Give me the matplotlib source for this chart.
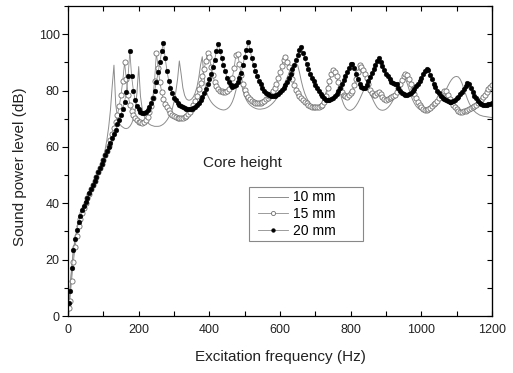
import numpy as np
import matplotlib.pyplot as plt
from matplotlib.patches import Rectangle
from matplotlib.ticker import MultipleLocator

plt.rcParams['font.family'] = ['Liberation Sans', 'DejaVu Sans']

# excitation frequency grid (Hz): first point, then every 5 Hz
freq = np.r_[2, np.arange(5, 1201, 5)]

# sound power level (dB), one row per 100 Hz
spl_10mm = [0.5,
    8, 16, 22.5, 27, 30.2, 33, 35.3, 37.3, 39, 40.6, 42.2, 43.8, 45.3, 46.8, 48.3, 49.8, 51.3, 52.8, 54.4, 56,
    59, 62.5, 67, 73, 81.5, 89, 75, 70.5, 68.5, 67.5, 67, 66.6, 66.5, 66.7, 67.3, 68.3, 70, 73, 79, 88.5,
    78, 73.5, 71, 69.6, 68.7, 68.1, 67.7, 67.5, 67.3, 67.3, 67.3, 67.4, 67.7, 68.1, 68.7, 69.5, 70.5, 71.8, 73.5, 76,
    79.5, 84, 90.5, 86, 81, 78.3, 77, 76.6, 76.6, 77, 77.8, 79.2, 81.3, 84.5, 89, 92, 84.5, 80.5, 78.3, 77,
    76, 75.2, 74.6, 74.1, 73.7, 73.4, 73.2, 73.1, 73.2, 73.5, 74, 74.8, 76, 77.7, 80, 83, 86, 83, 80, 78,
    76.6, 75.6, 74.9, 74.4, 74, 73.7, 73.5, 73.4, 73.4, 73.5, 73.6, 73.8, 74.1, 74.5, 75, 75.6, 76.3, 77.2, 78.2, 79.3,
    80.5, 81.8, 83.2, 84.6, 86, 87.3, 88.4, 89.2, 89.6, 89, 86.5, 83.5, 81, 79, 77.5, 76.3, 75.3, 74.6, 74.1, 73.9,
    73.9, 74.2, 74.9, 76, 77.5, 79.3, 81.3, 83.5, 85.5, 86.8, 87, 85.5, 82.5, 79.5, 77, 75.2, 74, 73.3, 73, 73,
    73.3, 73.8, 74.6, 75.6, 76.8, 78.2, 79.6, 80.6, 80.8, 80.2, 79, 77.6, 76.2, 75, 74, 73.4, 73.1, 73, 73.1, 73.4,
    73.9, 74.6, 75.5, 76.6, 77.9, 79.3, 80.8, 82.3, 83.6, 84.3, 84, 82.5, 80.5, 78.5, 76.8, 75.5, 74.5, 73.8, 73.3, 73.1,
    73.1, 73.3, 73.6, 74, 74.5, 74.9, 75.1, 75.2, 75.5, 76, 76.8, 77.8, 79, 80.3, 81.6, 82.8, 83.8, 84.5, 84.9, 85,
    84.8, 84, 82.6, 80.8, 78.9, 77.1, 75.6, 74.4, 73.4, 72.7, 72.1, 71.7, 71.3, 71.1, 70.9, 70.8, 70.7, 70.6, 70.5, 70.4]

spl_15mm = [3,
    5.5, 12.5, 19, 24.5, 28.5, 31.8, 34.3, 36.5, 38.3, 40, 41.7, 43.3, 45, 46.5, 48, 49.5, 51, 52.5, 54, 55.5,
    57, 58.7, 60.5, 62.5, 64.5, 66.7, 69, 71.5, 74.5, 78.5, 83.5, 90, 84, 78.5, 75, 72.8, 71.3, 70.2, 69.4, 69,
    68.7, 68.6, 68.8, 69.5, 70.7, 72.3, 74.5, 77.5, 83.5, 93.5, 88, 83, 79.5, 77, 75.3, 74, 73, 72, 71.3, 70.8,
    70.5, 70.3, 70.2, 70.2, 70.3, 70.6, 71, 71.6, 72.4, 73.4, 74.7, 76.3, 78.2, 80.5, 82.8, 85, 87.5, 90.5, 93.2, 92,
    88.5, 85.5, 83, 81.5, 80.5, 80, 79.7, 79.5, 79.5, 79.8, 80.6, 82, 84.5, 88, 92.5, 93, 89.5, 85.5, 82.3, 80.3,
    78.8, 77.8, 77, 76.4, 76, 75.7, 75.5, 75.5, 75.7, 76, 76.4, 76.9, 77.4, 78, 78.8, 79.8, 81, 82.5, 84.5, 86.5,
    88.8, 91, 92, 90, 88.3, 86.2, 84, 82, 80.3, 79, 78, 77.2, 76.6, 76, 75.5, 75, 74.6, 74.3, 74.2, 74.1,
    74.1, 74.2, 74.4, 74.8, 75.8, 78, 80.8, 83.5, 85.8, 87.2, 86.5, 85, 83, 81, 79.5, 78.5, 78, 77.8, 78.3, 79,
    80, 81.8, 84, 86.5, 89, 88.5, 87.2, 86, 84.3, 82.2, 80.3, 79.2, 78.5, 78.3, 79, 79.5, 78.8, 77.8, 76.9, 76.7,
    76.9, 77.3, 77.8, 78.2, 78.5, 79.5, 80.8, 82.3, 83.8, 85, 86, 85.5, 84, 82.2, 80.4, 78.8, 77.3, 76, 75, 74.2,
    73.6, 73.2, 73, 73.3, 73.9, 74.6, 75.2, 75.6, 76.3, 77.2, 78.3, 79.3, 80, 79.8, 78.5, 77, 75.8, 74.8, 74, 73.3,
    72.8, 72.5, 72.4, 72.6, 72.9, 73.2, 73.5, 73.7, 74, 74.5, 75, 75.6, 76.2, 76.8, 77.6, 78.5, 79.5, 80.5, 81.3, 82]

spl_20mm = [4.5,
    9, 17, 23.5, 27.5, 30.5, 33.5, 35.5, 37.5, 39, 40.5, 42, 43.5, 45, 46.5, 48, 49.5, 51, 52.5, 54, 55.5,
    57, 58.5, 60, 61.5, 63, 64.5, 66, 68, 69.5, 71.5, 73.5, 76, 79.5, 85, 94, 85, 80, 76.5, 74.5, 73.3,
    72.5, 72, 72, 72.3, 73, 74, 75.5, 77.5, 80, 83, 86.5, 90, 94, 97, 91.5, 87, 83.5, 81, 79, 77.5,
    76.5, 75.7, 75, 74.5, 74, 73.7, 73.4, 73.3, 73.3, 73.4, 73.7, 74.2, 74.8, 75.6, 76.5, 77.6, 79, 80.5, 82.2, 84,
    86, 88.5, 91, 94, 96.6, 94, 91.5, 89, 86.8, 84.5, 83, 81.8, 81.3, 81.5, 82, 83, 84.5, 86.3, 89, 92,
    94.5, 97.2, 94.5, 91.5, 89, 87, 85.2, 83.5, 82.2, 81, 80, 79.3, 78.7, 78.3, 78.1, 78, 78.1, 78.4, 78.8, 79.4,
    80.2, 81, 82, 83.2, 84.5, 86, 87.5, 89, 90.7, 92.5, 94.3, 95.5, 93.5, 91.5, 89.5, 87.5, 86, 84.5, 83.3, 82,
    80.8, 79.8, 78.8, 78, 77.3, 76.8, 76.6, 76.6, 76.9, 77.4, 78, 78.8, 79.8, 81, 82.3, 83.6, 85, 86.5, 88, 89.3,
    89.5, 88, 86, 84, 82.5, 81.3, 80.8, 81, 82, 83.3, 84.8, 86.3, 87.8, 89.2, 90.5, 91.4, 90.3, 88.8, 87.3, 86,
    85, 84, 83.2, 82.7, 82.5, 82.2, 81, 80, 79.3, 78.8, 78.5, 78.4, 78.6, 79.1, 79.8, 80.6, 81.5, 82.5, 83.5, 84.6,
    85.7, 86.8, 87.8, 87.3, 85.5, 84, 82.5, 81.2, 80, 79, 78.2, 77.5, 77, 76.6, 76.2, 76, 76.1, 76.3, 76.7, 77.2,
    77.8, 78.6, 79.5, 80.5, 81.6, 82.7, 82.5, 81, 79.5, 78.2, 77.2, 76.3, 75.6, 75.1, 74.9, 74.9, 75, 75.2, 75.4, 75.6]

labels = ['10 mm', '15 mm', '20 mm']

fig = plt.figure(figsize=(5.13, 3.73), dpi=100)
ax = fig.add_axes([0.1326, 0.1528, 0.8265, 0.8311])

ax.plot(freq, spl_10mm, color='#8c8c8c', lw=0.7, label=labels[0])
ax.plot(freq, spl_15mm, color='#8c8c8c', lw=0.6, marker='o', ms=3.7,
        mfc='white', mec='#6e6e6e', mew=0.6, label=labels[1])
ax.plot(freq, spl_20mm, color='#8c8c8c', lw=0.6, marker='o', ms=3.4,
        mfc='black', mec='black', mew=0.3, label=labels[2])

ax.set_xlim(0, 1200)
ax.set_ylim(0, 110)
ax.xaxis.set_major_locator(MultipleLocator(200))
ax.xaxis.set_minor_locator(MultipleLocator(100))
ax.yaxis.set_major_locator(MultipleLocator(20))
ax.yaxis.set_minor_locator(MultipleLocator(10))

ax.tick_params(axis='x', which='both', direction='in', top=True, length=3.5,
               width=0.8, labelsize=9, pad=6, labelcolor='#222222')
ax.tick_params(axis='y', which='major', direction='out', length=4, width=0.8,
               labelsize=9, pad=2, labelcolor='#222222')
ax.tick_params(axis='y', which='minor', direction='out', length=3, width=0.8)

right = ax.secondary_yaxis('right')
right.yaxis.set_major_locator(MultipleLocator(10))
right.tick_params(direction='in', length=3.5, width=0.8, labelright=False)

for s in ax.spines.values():
    s.set_linewidth(0.9)

ax.text(0.318, 0.4926, 'Core height', transform=ax.transAxes,
        fontsize=11, va='center', ha='left', color='#222222')

ax.add_patch(Rectangle((0.4269, 0.2419), 0.2689, 0.1733, transform=ax.transAxes,
                       fill=False, edgecolor='#888888', lw=0.8, zorder=5))
ax.legend(loc='upper left', bbox_to_anchor=(0.448, 0.405), frameon=False,
          borderpad=0, borderaxespad=0, handlelength=2.16, handletextpad=0.34,
          labelspacing=0.2, fontsize=10, markerscale=0.8, numpoints=1)

fig.text(280 / 513, 1 - 356.7 / 373, 'Excitation frequency (Hz)',
         ha='center', va='center', fontsize=11, color='#222222')
fig.text(20 / 513, 1 - 167 / 373, 'Sound power level (dB)', rotation=90,
         ha='center', va='center', fontsize=11, color='#222222')

fig.savefig('out.png', dpi=100)
